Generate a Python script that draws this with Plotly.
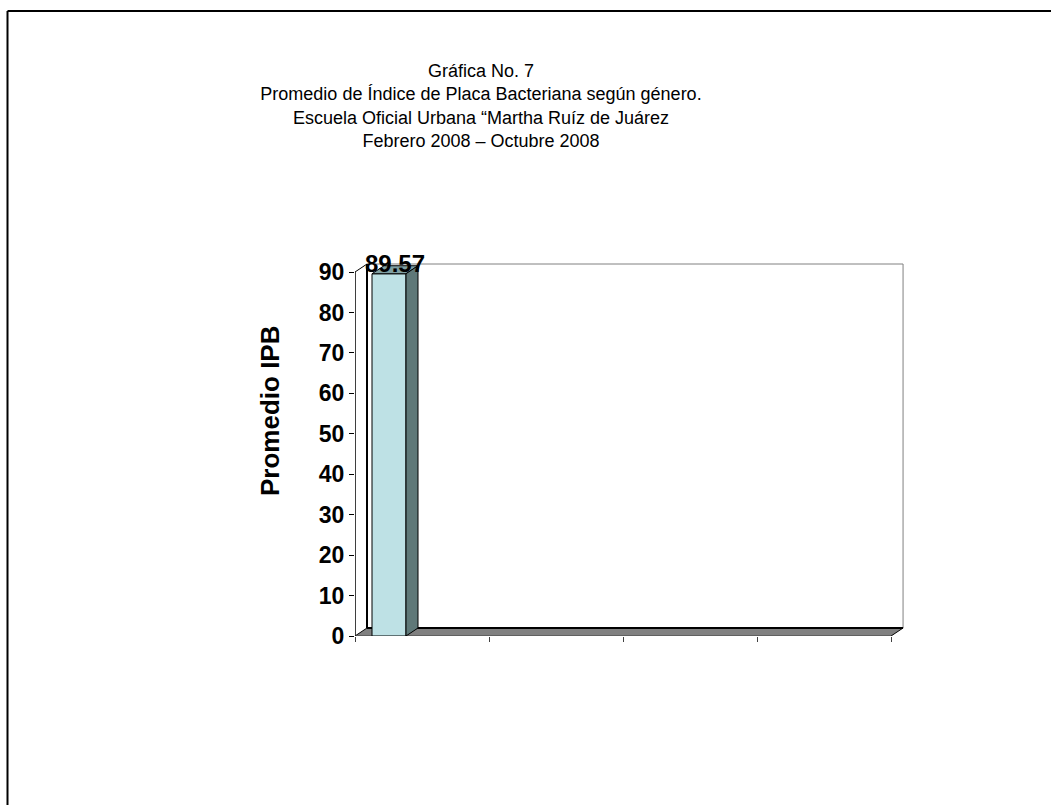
import plotly.graph_objects as go

# ---- data ----
values = [89.57]
value_labels = ["89.57"]
y_ticks = [0, 10, 20, 30, 40, 50, 60, 70, 80, 90]
x_slots = [0, 1, 2, 3, 4]
title_lines = [
    "Gráfica No. 7",
    "Promedio de Índice de Placa Bacteriana según género.",
    "Escuela Oficial Urbana “Martha Ruíz de Juárez",
    "Febrero 2008 – Octubre 2008",
]
y_title = "Promedio IPB"

# ---- geometry / style ----
W, H = 1051, 805
PL, PR, PT, PB = 355, 905, 255, 636          # plot area in px
X_MAX = 4.104                                 # x range in slot units
PX_PER_Y = (636 - 272) / 90.0
Y_MAX = (PB - PT) / PX_PER_Y
PX_PER_X = (PR - PL) / X_MAX
DX = 12 / PX_PER_X                            # depth offset (x)
DY = 8 / PX_PER_Y                             # depth offset (y)
WALL_TOP = max(y_ticks)
N_SLOTS = max(x_slots)

bar_center = 0.2537
bar_width = 0.2537
FRONT = "#BEE1E5"
TOP = "#7F9FA2"
SIDE = "#5F7878"
FONT = "Arial, Liberation Sans, sans-serif"


def px_to_paper(px, py):
    return (px - PL) / (PR - PL), (PB - py) / (PB - PT)


fig = go.Figure()

fig.add_trace(go.Bar(
    x=[bar_center], y=values, width=bar_width,
    marker=dict(color=FRONT, line=dict(color="black", width=1)),
    hoverinfo="skip", showlegend=False,
))

shapes = []
# floor
shapes.append(dict(type="path", layer="below",
                   path=f"M 0,0 L {N_SLOTS},0 L {N_SLOTS + DX},{DY} L {DX},{DY} Z",
                   fillcolor="#808080", line=dict(width=0)))
# back wall
shapes.append(dict(type="rect", layer="below", x0=DX, x1=N_SLOTS + DX,
                   y0=DY, y1=WALL_TOP + DY, fillcolor="white",
                   line=dict(color="#808080", width=1)))
# side wall
shapes.append(dict(type="path", layer="below",
                   path=f"M 0,0 L 0,{WALL_TOP} L {DX},{WALL_TOP + DY} L {DX},{DY} Z",
                   fillcolor="white", line=dict(color="black", width=1)))
# wall edges
shapes.append(dict(type="line", layer="below", x0=DX, x1=N_SLOTS + DX, y0=DY, y1=DY,
                   line=dict(color="black", width=2)))
shapes.append(dict(type="line", layer="below", x0=DX, x1=DX, y0=DY, y1=WALL_TOP + DY,
                   line=dict(color="black", width=2)))
shapes.append(dict(type="line", layer="below", x0=0, x1=N_SLOTS, y0=0, y1=0,
                   line=dict(color="#404040", width=1)))
shapes.append(dict(type="line", layer="below", x0=N_SLOTS, x1=N_SLOTS + DX, y0=0, y1=DY,
                   line=dict(color="black", width=1)))
shapes.append(dict(type="line", layer="below", x0=0, x1=0, y0=0, y1=WALL_TOP,
                   line=dict(color="black", width=1)))

# 3-D faces of the bar
for v in values:
    x0 = bar_center - bar_width / 2
    x1 = bar_center + bar_width / 2
    shapes.append(dict(type="path", layer="above",
                       path=f"M {x0},{v} L {x1},{v} L {x1 + DX},{v + DY} L {x0 + DX},{v + DY} Z",
                       fillcolor=TOP, line=dict(color="black", width=1)))
    shapes.append(dict(type="path", layer="above",
                       path=f"M {x1},0 L {x1},{v} L {x1 + DX},{v + DY} L {x1 + DX},{DY} Z",
                       fillcolor=SIDE, line=dict(color="black", width=1)))

# page frame
fx0, fy0 = px_to_paper(7.5, 11)
fx1, _ = px_to_paper(W + 5, 11)
_, fy1 = px_to_paper(7.5, H + 5)
shapes.append(dict(type="line", xref="paper", yref="paper", x0=fx0, x1=fx1, y0=fy0, y1=fy0,
                   line=dict(color="black", width=2)))
shapes.append(dict(type="line", xref="paper", yref="paper", x0=fx0, x1=fx0, y0=fy0, y1=fy1,
                   line=dict(color="black", width=2)))

annotations = []
for v, lab in zip(values, value_labels):
    annotations.append(dict(x=bar_center + DX / 2, y=v, text=f"<b>{lab}</b>",
                            showarrow=False, yanchor="middle", yshift=10,
                            font=dict(family=FONT, size=24, color="black")))

tx, ty = px_to_paper(270, 411)
annotations.append(dict(xref="paper", yref="paper", x=tx, y=ty, text=f"<b>{y_title}</b>",
                        textangle=-90, showarrow=False, xanchor="center", yanchor="middle",
                        font=dict(family=FONT, size=26, color="black")))

fig.update_layout(
    width=W, height=H,
    margin=dict(l=PL, r=W - PR, t=PT, b=H - PB, pad=0),
    paper_bgcolor="white", plot_bgcolor="white",
    title=dict(text="<br>".join(title_lines), x=481 / W, xanchor="center",
               y=1 - 77 / H, yanchor="top", yref="container",
               font=dict(family=FONT, size=18, color="black")),
    xaxis=dict(range=[0, X_MAX], tickvals=x_slots, showticklabels=False,
               ticks="outside", ticklen=5, tickcolor="#404040", tickwidth=1,
               showline=False, showgrid=False, zeroline=False, fixedrange=True),
    yaxis=dict(range=[0, Y_MAX], tickvals=y_ticks, ticks="outside", ticklen=5,
               tickcolor="black", tickwidth=1, showline=False, showgrid=False,
               zeroline=False, fixedrange=True,
               tickfont=dict(family=FONT, size=23, color="black", weight="bold")),
    shapes=shapes, annotations=annotations, showlegend=False,
)

fig.write_html("out.html")
